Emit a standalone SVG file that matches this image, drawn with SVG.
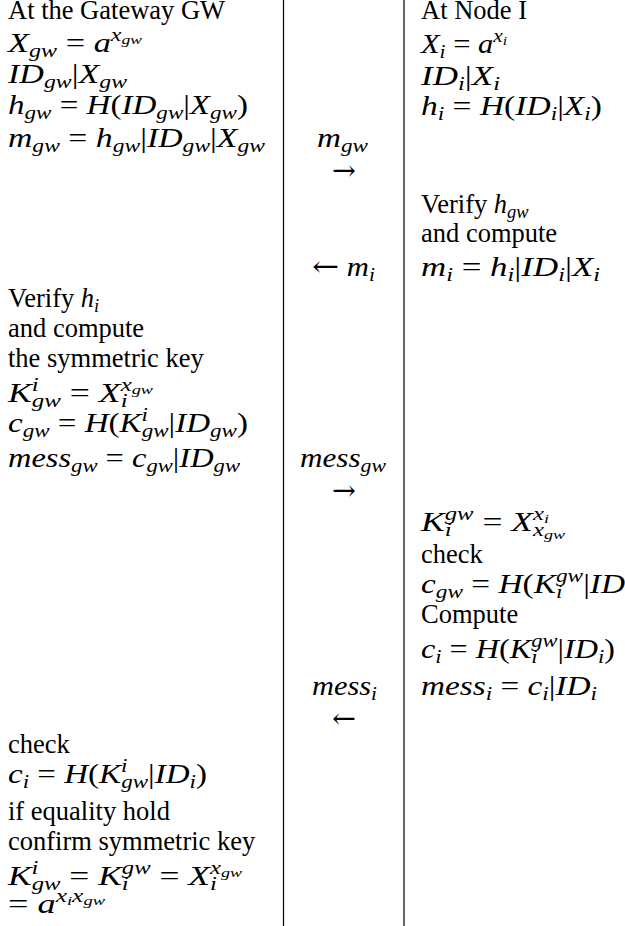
<svg xmlns="http://www.w3.org/2000/svg" width="625" height="926" viewBox="0 0 625 926">
<style>
.t{font-family:"Liberation Serif","Times New Roman",serif;font-size:26.5px;fill:#000}
.m{font-style:italic}
.u{font-style:normal}
.sb{font-size:18.5px;baseline-shift:-5px}
.sp{font-size:18.5px;baseline-shift:11px}
.ssb{font-size:13.5px;baseline-shift:-3px}
.c{text-anchor:middle}
.ar{font-family:"DejaVu Serif",serif;font-style:normal;font-size:28px}
.rule{stroke:#000;stroke-width:1.2;fill:none}
</style>
<rect width="625" height="926" fill="#fff"/>
<g id="connectors">
<line class="rule" x1="283.5" y1="0" x2="283.5" y2="926"/>
<line class="rule" x1="404" y1="0" x2="404" y2="926"/>
</g>
<g id="gateway">
<text class="t" x="8" y="19">At the Gateway GW</text>
<text class="t m" x="8" y="52" textLength="134" lengthAdjust="spacingAndGlyphs">X<tspan class="sb">gw</tspan> <tspan class="u">=</tspan> a<tspan class="sp">x<tspan class="ssb">gw</tspan></tspan></text>
<text class="t m" x="8" y="83" textLength="119" lengthAdjust="spacingAndGlyphs">ID<tspan class="sb">gw</tspan><tspan class="u">|</tspan>X<tspan class="sb">gw</tspan></text>
<text class="t m" x="8" y="114" textLength="240" lengthAdjust="spacingAndGlyphs">h<tspan class="sb">gw</tspan> <tspan class="u">=</tspan> H<tspan class="u">(</tspan>ID<tspan class="sb">gw</tspan><tspan class="u">|</tspan>X<tspan class="sb">gw</tspan><tspan class="u">)</tspan></text>
<text class="t m" x="8" y="147" textLength="257" lengthAdjust="spacingAndGlyphs">m<tspan class="sb">gw</tspan> <tspan class="u">=</tspan> h<tspan class="sb">gw</tspan><tspan class="u">|</tspan>ID<tspan class="sb">gw</tspan><tspan class="u">|</tspan>X<tspan class="sb">gw</tspan></text>
<text class="t" x="8" y="307">Verify <tspan class="m">h<tspan class="sb">i</tspan></tspan></text>
<text class="t" x="8" y="337">and compute</text>
<text class="t" x="8" y="367">the symmetric key</text>
<text class="t m" x="8" y="402" textLength="145" lengthAdjust="spacingAndGlyphs">K<tspan class="sp">i</tspan><tspan class="sb" dx="-5.1">gw</tspan> <tspan class="u">=</tspan> X<tspan class="sb">i</tspan><tspan class="sp" dx="-5.1">x<tspan class="ssb">gw</tspan></tspan></text>
<text class="t m" x="8" y="432" textLength="240" lengthAdjust="spacingAndGlyphs">c<tspan class="sb">gw</tspan> <tspan class="u">=</tspan> H<tspan class="u">(</tspan>K<tspan class="sp">i</tspan><tspan class="sb" dx="-5.1">gw</tspan><tspan class="u">|</tspan>ID<tspan class="sb">gw</tspan><tspan class="u">)</tspan></text>
<text class="t m" x="8" y="467" textLength="232" lengthAdjust="spacingAndGlyphs">mess<tspan class="sb">gw</tspan> <tspan class="u">=</tspan> c<tspan class="sb">gw</tspan><tspan class="u">|</tspan>ID<tspan class="sb">gw</tspan></text>
<text class="t" x="8" y="753">check</text>
<text class="t m" x="8" y="783" textLength="199" lengthAdjust="spacingAndGlyphs">c<tspan class="sb">i</tspan> <tspan class="u">=</tspan> H<tspan class="u">(</tspan>K<tspan class="sp">i</tspan><tspan class="sb" dx="-5.1">gw</tspan><tspan class="u">|</tspan>ID<tspan class="sb">i</tspan><tspan class="u">)</tspan></text>
<text class="t" x="8" y="820">if equality hold</text>
<text class="t" x="8" y="850">confirm symmetric key</text>
<text class="t m" x="8" y="885" textLength="234" lengthAdjust="spacingAndGlyphs">K<tspan class="sp">i</tspan><tspan class="sb" dx="-5.1">gw</tspan> <tspan class="u">=</tspan> K<tspan class="sb">i</tspan><tspan class="sp" dx="-5.1">gw</tspan> <tspan class="u">=</tspan> X<tspan class="sb">i</tspan><tspan class="sp" dx="-5.1">x<tspan class="ssb">gw</tspan></tspan></text>
<text class="t m" x="8" y="913" textLength="97" lengthAdjust="spacingAndGlyphs"><tspan class="u">=</tspan> a<tspan class="sp">x<tspan class="ssb">i</tspan>x<tspan class="ssb">gw</tspan></tspan></text>
</g>
<g id="messages">
<text class="t m" x="317" y="147" textLength="51" lengthAdjust="spacingAndGlyphs">m<tspan class="sb">gw</tspan></text>
<text class="t ar" x="332" y="180" textLength="24" lengthAdjust="spacingAndGlyphs">→</text>
<text class="t m" x="312" y="276" textLength="63" lengthAdjust="spacingAndGlyphs"><tspan class="ar">←</tspan> m<tspan class="sb">i</tspan></text>
<text class="t m" x="300" y="467" textLength="86" lengthAdjust="spacingAndGlyphs">mess<tspan class="sb">gw</tspan></text>
<text class="t ar" x="332" y="500" textLength="24" lengthAdjust="spacingAndGlyphs">→</text>
<text class="t m" x="312" y="695" textLength="65" lengthAdjust="spacingAndGlyphs">mess<tspan class="sb">i</tspan></text>
<text class="t ar" x="332" y="728" textLength="24" lengthAdjust="spacingAndGlyphs">←</text>
</g>
<g id="node">
<text class="t" x="421" y="19">At Node I</text>
<text class="t m" x="421" y="53" textLength="86" lengthAdjust="spacingAndGlyphs">X<tspan class="sb">i</tspan> <tspan class="u">=</tspan> a<tspan class="sp">x<tspan class="ssb">i</tspan></tspan></text>
<text class="t m" x="421" y="85" textLength="79" lengthAdjust="spacingAndGlyphs">ID<tspan class="sb">i</tspan><tspan class="u">|</tspan>X<tspan class="sb">i</tspan></text>
<text class="t m" x="421" y="115" textLength="181" lengthAdjust="spacingAndGlyphs">h<tspan class="sb">i</tspan> <tspan class="u">=</tspan> H<tspan class="u">(</tspan>ID<tspan class="sb">i</tspan><tspan class="u">|</tspan>X<tspan class="sb">i</tspan><tspan class="u">)</tspan></text>
<text class="t" x="421" y="213">Verify <tspan class="m">h<tspan class="sb">gw</tspan></tspan></text>
<text class="t" x="421" y="242">and compute</text>
<text class="t m" x="421" y="276" textLength="179" lengthAdjust="spacingAndGlyphs">m<tspan class="sb">i</tspan> <tspan class="u">=</tspan> h<tspan class="sb">i</tspan><tspan class="u">|</tspan>ID<tspan class="sb">i</tspan><tspan class="u">|</tspan>X<tspan class="sb">i</tspan></text>
<text class="t m" x="421" y="531" textLength="144" lengthAdjust="spacingAndGlyphs">K<tspan class="sb">i</tspan><tspan class="sp" dx="-5.1">gw</tspan> <tspan class="u">=</tspan> X<tspan class="sp">x<tspan class="ssb">i</tspan></tspan><tspan class="sb" dx="-12">x<tspan class="ssb">gw</tspan></tspan></text>
<text class="t" x="421" y="563">check</text>
<text class="t m" x="421" y="593" textLength="204" lengthAdjust="spacingAndGlyphs">c<tspan class="sb">gw</tspan> <tspan class="u">=</tspan> H<tspan class="u">(</tspan>K<tspan class="sb">i</tspan><tspan class="sp" dx="-5.1">gw</tspan><tspan class="u">|</tspan>ID</text>
<text class="t" x="421" y="623">Compute</text>
<text class="t m" x="421" y="658" textLength="194" lengthAdjust="spacingAndGlyphs">c<tspan class="sb">i</tspan> <tspan class="u">=</tspan> H<tspan class="u">(</tspan>K<tspan class="sb">i</tspan><tspan class="sp" dx="-5.1">gw</tspan><tspan class="u">|</tspan>ID<tspan class="sb">i</tspan><tspan class="u">)</tspan></text>
<text class="t m" x="421" y="695" textLength="176" lengthAdjust="spacingAndGlyphs">mess<tspan class="sb">i</tspan> <tspan class="u">=</tspan> c<tspan class="sb">i</tspan><tspan class="u">|</tspan>ID<tspan class="sb">i</tspan></text>
</g>
</svg>
